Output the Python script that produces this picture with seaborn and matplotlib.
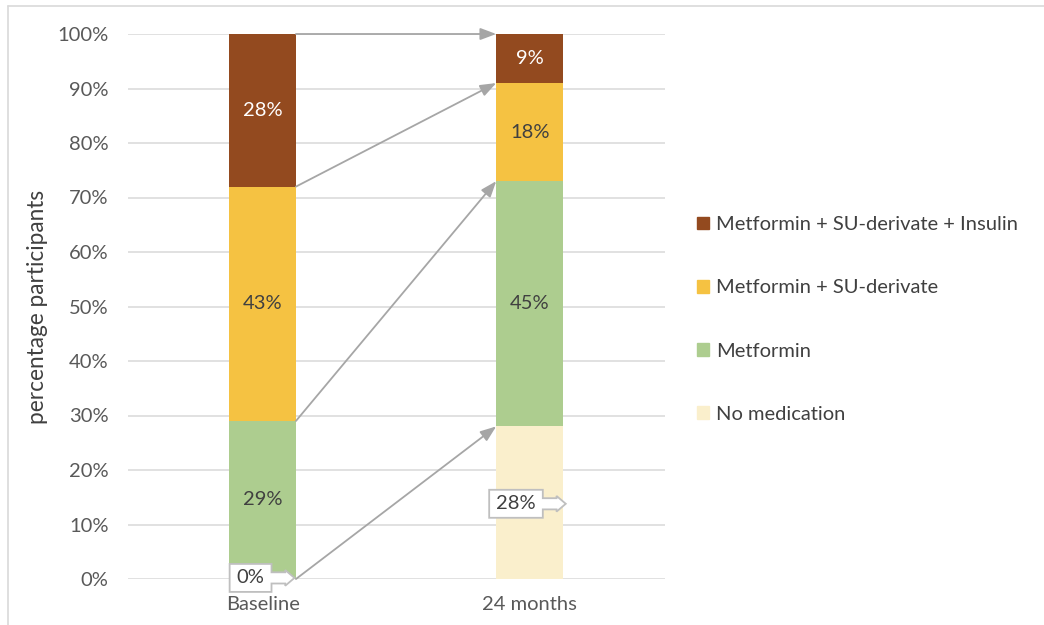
import matplotlib
matplotlib.use("Agg")
import matplotlib.pyplot as plt
import matplotlib.patches as mpatches
from matplotlib.lines import Line2D
from matplotlib.path import Path
import seaborn as sns
import numpy as np

# ---- data ----
timepoints = ["Baseline", "24 months"]
series_names = ["No medication", "Metformin", "Metformin + SU-derivate",
                "Metformin + SU-derivate + Insulin"]
no_medication = [0, 28]
metformin = [29, 45]
metformin_su = [43, 18]
metformin_su_insulin = [28, 9]
y_ticks = [0, 10, 20, 30, 40, 50, 60, 70, 80, 90, 100]

colors = ["#FAEFCC", "#ADCD8F", "#F5C242", "#934A1F"]
label_colors = ["#404040", "#404040", "#404040", "white"]

sns.set_theme(style="white")
plt.rcParams['font.family'] = ['Lato', 'DejaVu Sans']

FS = 14.5

fig = plt.figure(figsize=(10.44, 6.25), dpi=100)
ax = fig.add_axes([128/1044, 1-579/625, (665-128)/1044, (579-34)/625])

series = [no_medication, metformin, metformin_su, metformin_su_insulin]
bottom = np.zeros(len(timepoints))
bounds = [bottom.copy()]
bar_w = 0.25
for name, vals, col in zip(series_names, series, colors):
    sns.barplot(x=timepoints, y=vals, bottom=bottom, color=col, width=bar_w,
                ax=ax, linewidth=0, saturation=1, label=name)
    bottom = bottom + np.array(vals, dtype=float)
    bounds.append(bottom.copy())

ax.set_xlim(-0.504, 1.507)
ax.set_ylim(0, 100)
ax.set_yticks(y_ticks)
ax.set_yticklabels([f"{t}%" for t in y_ticks])
ax.yaxis.grid(True, color="#D9D9D9", linewidth=1.1)
ax.set_axisbelow(True)
for s in ax.spines.values():
    s.set_visible(False)
ax.tick_params(axis="both", length=0, labelsize=FS, colors="#595959")
ax.tick_params(axis="y", pad=14)
ax.tick_params(axis="x", pad=12)
ax.set_ylabel("percentage participants", fontsize=16.3, color="#404040", labelpad=7)
ax.set_xlabel("")

# segment labels (not for "No medication", which uses callouts)
for si in range(1, 4):
    for ti in range(2):
        v = series[si][ti]
        if v <= 0:
            continue
        mid = bounds[si][ti] + v / 2
        ax.text(ti, mid, f"{v}%", ha="center", va="center", fontsize=FS,
                color=label_colors[si])


# right-arrow callout shape (pixel units)
def callout_arrow(x0, y0, width, height, mutation_size):
    padx, pady = 7.0, 5.5
    L, R = x0 - padx, x0 + width + padx
    B, T = y0 - pady, y0 + height + pady
    H = T - B
    cy = (B + T) / 2
    sh = 0.20 * H      # shaft half height
    hh = 0.28 * H      # head half height
    sl = 0.49 * H      # shaft length
    hl = 0.33 * H      # head length
    verts = [(L, B), (R, B), (R, cy - sh), (R + sl, cy - sh), (R + sl, cy - hh),
             (R + sl + hl, cy), (R + sl, cy + hh), (R + sl, cy + sh), (R, cy + sh),
             (R, T), (L, T), (L, B)]
    codes = [Path.MOVETO] + [Path.LINETO] * (len(verts) - 2) + [Path.CLOSEPOLY]
    return Path(verts, codes)


callout_pos = [(-0.045, 0.2), (0.949, 13.8)]
for ti, (cx, cy) in enumerate(callout_pos):
    ax.text(cx, cy, f"{no_medication[ti]}%", ha="center", va="center",
            fontsize=FS, color="#404040", zorder=6,
            bbox=dict(boxstyle=callout_arrow, facecolor="white",
                      edgecolor="#BFBFBF", linewidth=1.3))

# flow arrows between segment boundaries
for k in [1, 2, 3, 4]:
    y0 = bounds[k][0]
    y1 = bounds[k][1]
    ax.annotate("", xy=(1 - bar_w/2, y1), xytext=(0 + bar_w/2, y0),
                arrowprops=dict(arrowstyle="-|>,head_length=0.8,head_width=0.3",
                                color="#A6A6A6", lw=1.3, shrinkA=0, shrinkB=0),
                zorder=5)

# legend
handles = [mpatches.Patch(color=c, label=n) for n, c in zip(series_names, colors)][::-1]
if ax.legend_:
    ax.legend_.remove()
fig.legend(handles=handles, loc="upper left", bbox_to_anchor=(697/1044, 1-216/625),
           frameon=False, fontsize=FS, labelcolor="#404040", handlelength=0.6,
           handleheight=0.6, handletextpad=0.35, labelspacing=2.3, borderaxespad=0,
           borderpad=0)

# figure border (top and left)
fig.add_artist(Line2D([8/1044, 8/1044], [0, 1-6/625], transform=fig.transFigure,
                      color="#D9D9D9", lw=1.2))
fig.add_artist(Line2D([8/1044, 1], [1-6/625, 1-6/625], transform=fig.transFigure,
                      color="#D9D9D9", lw=1.2))

fig.savefig("out.png", dpi=100)
